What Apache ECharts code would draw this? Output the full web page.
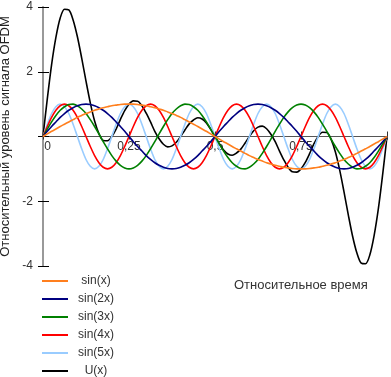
<!DOCTYPE html>
<html>
<head>
<meta charset="utf-8">
<script src="https://cdn.jsdelivr.net/npm/echarts@6/dist/echarts.min.js"></script>
<style>
  html, body { margin: 0; padding: 0; background: #fff; }
  #chart { width: 391px; height: 377px; }
</style>
</head>
<body>
<div id="chart"></div>
<script>
// значения, шаг по времени 0.0125
const xs = []
for (let i = 0; i <= 80; i++) xs.push(+(i * 0.0125).toFixed(4))

const sin1 = [0, .08, .16, .23, .31, .38, .45, .52, .59, .65, .71, .76, .81, .85, .89, .92, .95, .97, .99, 1,
  1, 1, .99, .97, .95, .92, .89, .85, .81, .76, .71, .65, .59, .52, .45, .38, .31, .23, .16, .08,
  0, -.08, -.16, -.23, -.31, -.38, -.45, -.52, -.59, -.65, -.71, -.76, -.81, -.85, -.89, -.92, -.95, -.97, -.99, -1,
  -1, -1, -.99, -.97, -.95, -.92, -.89, -.85, -.81, -.76, -.71, -.65, -.59, -.52, -.45, -.38, -.31, -.23, -.16, -.08, 0]
const sin2 = [0, .16, .31, .45, .59, .71, .81, .89, .95, .99, 1, .99, .95, .89, .81, .71, .59, .45, .31, .16,
  0, -.16, -.31, -.45, -.59, -.71, -.81, -.89, -.95, -.99, -1, -.99, -.95, -.89, -.81, -.71, -.59, -.45, -.31, -.16,
  0, .16, .31, .45, .59, .71, .81, .89, .95, .99, 1, .99, .95, .89, .81, .71, .59, .45, .31, .16,
  0, -.16, -.31, -.45, -.59, -.71, -.81, -.89, -.95, -.99, -1, -.99, -.95, -.89, -.81, -.71, -.59, -.45, -.31, -.16, 0]
const sin3 = [0, .23, .45, .65, .81, .92, .99, 1, .95, .85, .71, .52, .31, .08, -.16, -.38, -.59, -.76, -.89, -.97,
  -1, -.97, -.89, -.76, -.59, -.38, -.16, .08, .31, .52, .71, .85, .95, 1, .99, .92, .81, .65, .45, .23,
  0, -.23, -.45, -.65, -.81, -.92, -.99, -1, -.95, -.85, -.71, -.52, -.31, -.08, .16, .38, .59, .76, .89, .97,
  1, .97, .89, .76, .59, .38, .16, -.08, -.31, -.52, -.71, -.85, -.95, -1, -.99, -.92, -.81, -.65, -.45, -.23, 0]
const sin4 = [0, .31, .59, .81, .95, 1, .95, .81, .59, .31, 0, -.31, -.59, -.81, -.95, -1, -.95, -.81, -.59, -.31,
  0, .31, .59, .81, .95, 1, .95, .81, .59, .31, 0, -.31, -.59, -.81, -.95, -1, -.95, -.81, -.59, -.31,
  0, .31, .59, .81, .95, 1, .95, .81, .59, .31, 0, -.31, -.59, -.81, -.95, -1, -.95, -.81, -.59, -.31,
  0, .31, .59, .81, .95, 1, .95, .81, .59, .31, 0, -.31, -.59, -.81, -.95, -1, -.95, -.81, -.59, -.31, 0]
const sin5 = [0, .38, .71, .92, 1, .92, .71, .38, 0, -.38, -.71, -.92, -1, -.92, -.71, -.38,
  0, .38, .71, .92, 1, .92, .71, .38, 0, -.38, -.71, -.92, -1, -.92, -.71, -.38,
  0, .38, .71, .92, 1, .92, .71, .38, 0, -.38, -.71, -.92, -1, -.92, -.71, -.38,
  0, .38, .71, .92, 1, .92, .71, .38, 0, -.38, -.71, -.92, -1, -.92, -.71, -.38,
  0, .38, .71, .92, 1, .92, .71, .38, 0, -.38, -.71, -.92, -1, -.92, -.71, -.38, 0]
const sumU = [0, 1.16, 2.22, 3.06, 3.66, 3.93, 3.91, 3.60, 3.08, 2.42, 1.71, 1.04, 0.48, 0.09, -0.12, -0.13, 0, 0.23, 0.53, 0.80,
  1, 1.10, 1.09, 0.95, 0.72, 0.45, 0.16, -0.07, -0.24, -0.32, -0.29, -0.18, 0, 0.20, 0.39, 0.51, 0.58, 0.54, 0.42, 0.22,
  0, -0.22, -0.42, -0.54, -0.58, -0.51, -0.39, -0.20, 0, 0.18, 0.29, 0.32, 0.24, 0.07, -0.16, -0.45, -0.72, -0.95, -1.09, -1.10,
  -1, -0.80, -0.53, -0.23, 0, 0.13, 0.12, -0.09, -0.48, -1.04, -1.71, -2.42, -3.08, -3.60, -3.91, -3.93, -3.66, -3.06, -2.22, -1.16, 0]

const names = ['sin(x)', 'sin(2x)', 'sin(3x)', 'sin(4x)', 'sin(5x)', 'U(x)']
const values = [sin1, sin2, sin3, sin4, sin5, sumU]
const colors = ['#ff7f1e', '#000080', '#008000', '#ff0000', '#99ccff', '#000000']

const font = 'Liberation Sans, Arial, sans-serif'
const chart = echarts.init(document.getElementById('chart'))

// ось X проходит через ноль: сдвиг от нижнего края сетки
const zeroShift = -129.5

const series = names.map((name, k) => ({
  name: name,
  type: 'line',
  smooth: 0.3,
  showSymbol: false,
  z: 10 - k,
  lineStyle: { color: colors[k], width: 1.6 },
  itemStyle: { color: colors[k] },
  data: values[k].map((v, i) => [xs[i], v])
})).reverse()

chart.setOption({
  animation: false,
  textStyle: { fontFamily: font },
  title: {
    text: 'Относительное время',
    left: 229,
    top: 274,
    textStyle: { fontSize: 13, fontWeight: 'normal', color: '#333', fontFamily: font }
  },
  legend: {
    data: names,
    orient: 'vertical',
    left: 42,
    top: 275,
    height: 102,
    padding: 0,
    icon: 'rect',
    itemWidth: 26,
    itemHeight: 2,
    itemGap: 6,
    formatter: name => '{a|' + name + '}',
    textStyle: {
      fontSize: 12,
      color: '#333',
      fontFamily: font,
      rich: { a: { width: 46, align: 'center', lineHeight: 12, fontSize: 12, color: '#333', fontFamily: font } }
    }
  },
  grid: { left: 43, right: 4, top: 7, bottom: 111, outerBoundsMode: 'none' },
  xAxis: [{
    type: 'value',
    min: 0,
    max: 1,
    interval: 0.25,
    position: 'bottom',
    offset: zeroShift,
    axisLine: { onZero: false, lineStyle: { color: '#555', width: 1 } },
    axisTick: { length: 3, lineStyle: { color: '#333' } },
    axisLabel: {
      margin: 4,
      fontSize: 12,
      color: '#333',
      formatter: v => (v === 0 ? '{z|0}' : v === 1 ? '' : String(v).replace('.', ',')),
      rich: { z: { padding: [0, 0, 0, 9], fontSize: 12, color: '#333', fontFamily: font } }
    },
    splitLine: { show: false }
  }, {
    type: 'value',
    min: 0,
    max: 1,
    interval: 0.25,
    position: 'bottom',
    offset: zeroShift,
    axisLine: { show: false, onZero: false },
    axisTick: { inside: true, length: 5, lineStyle: { color: '#333' } },
    axisLabel: { show: false },
    splitLine: { show: false }
  }],
  yAxis: [{
    type: 'value',
    min: -4,
    max: 4,
    interval: 2,
    name: 'Относительный уровень сигнала OFDM',
    nameLocation: 'middle',
    nameGap: 26,
    nameTextStyle: { fontSize: 13, color: '#222', fontFamily: font },
    axisLine: { show: true, lineStyle: { color: '#999', width: 2 } },
    axisTick: { show: true, length: 5, lineStyle: { color: '#000' } },
    axisLabel: {
      margin: 10,
      fontSize: 12,
      color: '#333',
      formatter: v => (v === 0 ? '' : String(v))
    },
    splitLine: { show: false }
  }, {
    type: 'value',
    min: -4,
    max: 4,
    interval: 2,
    position: 'left',
    axisLine: { show: false },
    axisTick: { show: true, inside: true, length: 6, lineStyle: { color: '#000' } },
    axisLabel: { show: false },
    splitLine: { show: false }
  }],
  series: series
})
</script>
</body>
</html>
